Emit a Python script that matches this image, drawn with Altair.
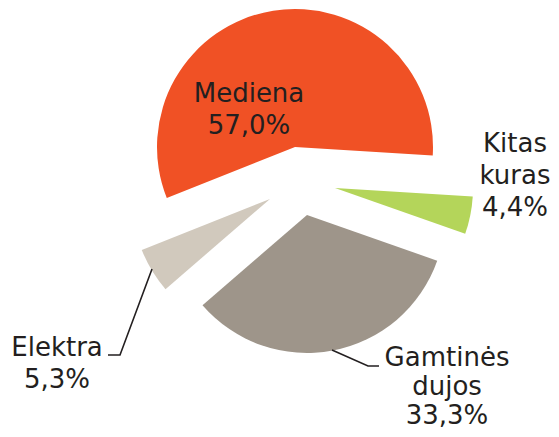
import math
import altair as alt
import pandas as pd

# ---- data ----
categories = ["Kitas kuras", "Gamtinės dujos", "Elektra", "Mediena"]
label_names = ["Kitas\nkuras", "Gamtinės\ndujos", "Elektra", "Mediena"]
shares = [4.4, 33.3, 5.3, 57.0]

# ---- style / layout ----
colors = ["#B4D55A", "#9E958A", "#D1C9BD", "#F05125"]
dy_all = -3
center = (295, 185 + dy_all)
radius = 138
start_deg = 93.5
explode = {  # pixel offset of each slice from the common centre
    "Kitas kuras": (32, -2),
    "Gamtinės dujos": (4, 25),
    "Elektra": (-33, 9),
    "Mediena": (-8, -43),
}
label_pos = {  # centre x and first baseline y of each label
    "Kitas kuras": (507, 147 + dy_all),
    "Gamtinės dujos": (439, 361 + dy_all),
    "Elektra": (49, 351 + dy_all),
    "Mediena": (241, 97 + dy_all),
}
leaders = {
    "Elektra": [(100, 350 + dy_all), (112, 350 + dy_all), (144, 264 + dy_all)],
    "Gamtinės dujos": [(324, 345 + dy_all), (360, 361 + dy_all), (371, 361 + dy_all)],
}

total = sum(shares)
rows = []
cum = 0.0
for i, (c, v) in enumerate(zip(categories, shares)):
    a0 = math.radians(start_deg) + 2 * math.pi * cum / total
    cum += v
    a1 = math.radians(start_deg) + 2 * math.pi * cum / total
    rows.append({
        "cat": c, "share": v, "start": a0, "end": a1,
        "cx": center[0] + explode[c][0], "cy": center[1] + explode[c][1],
        "label": label_names[i] + "\n" + f"{v:.1f}".replace(".", ",") + "%",
        "lx": label_pos[c][0], "ly": label_pos[c][1],
    })
df = pd.DataFrame(rows)

lrows = []
for c, pts in leaders.items():
    for k, (x, y) in enumerate(pts):
        lrows.append({"cat": c, "k": k, "x": x, "y": y})
ldf = pd.DataFrame(lrows)

base = alt.Chart(df)

arcs = base.mark_arc(outerRadius=radius, stroke=None).encode(
    theta=alt.Theta("start:Q", scale=None, stack=None),
    theta2="end:Q",
    x=alt.X("cx:Q", scale=None, axis=None),
    y=alt.Y("cy:Q", scale=None, axis=None),
    color=alt.Color("cat:N", scale=alt.Scale(domain=categories, range=colors), legend=None),
)

text_style = dict(font="DejaVu Sans", fontSize=26, color="#231F20", align="center",
                  baseline="alphabetic", lineBreak="\n")
text_enc = dict(
    x=alt.X("lx:Q", scale=None, axis=None),
    y=alt.Y("ly:Q", scale=None, axis=None),
    text="label:N",
)

labels = base.transform_filter(
    alt.datum.cat != "Gamtinės dujos"
).mark_text(lineHeight=32, **text_style).encode(**text_enc)

labels_gas = base.transform_filter(
    alt.datum.cat == "Gamtinės dujos"
).mark_text(lineHeight=29, **text_style).encode(**text_enc)

lines = alt.Chart(ldf).mark_line(color="#231F20", strokeWidth=1.6).encode(
    x=alt.X("x:Q", scale=None, axis=None),
    y=alt.Y("y:Q", scale=None, axis=None),
    detail="cat:N",
    order="k:Q",
)

chart = alt.layer(arcs, lines, labels, labels_gas).properties(
    width=543, height=421, padding=0, autosize="none",
    background="white",
).configure_view(stroke=None)

chart.save("out.html", embed_options={"renderer": "svg", "actions": False})
